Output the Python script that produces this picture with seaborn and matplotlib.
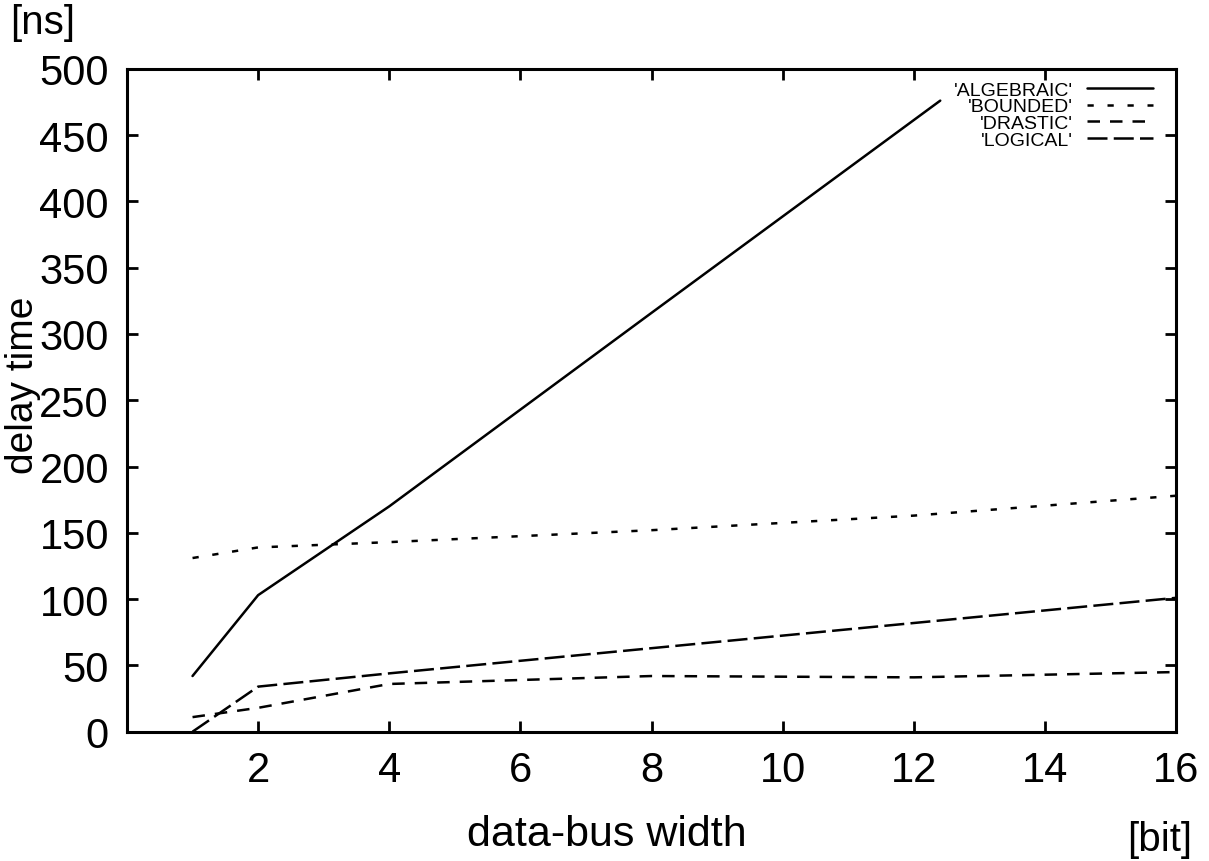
import matplotlib
matplotlib.use("Agg")
import matplotlib.pyplot as plt
import seaborn as sns

# data-bus width [bit] and delay time [ns]
x_algebraic = [1, 2, 4, 8, 12.4]
y_algebraic = [42, 103, 170, 316, 476]

x_bounded = [1, 2, 4, 8, 12, 16]
y_bounded = [131, 139, 143, 152, 163, 178]

x_drastic = [1, 2, 4, 8, 12, 16]
y_drastic = [11, 18, 36, 42, 41, 45]

x_logical = [1, 2, 4, 8, 16]
y_logical = [0, 34, 44, 63, 101]

labels = ["'ALGEBRAIC'", "'BOUNDED'", "'DRASTIC'", "'LOGICAL'"]
x_ticks = [2, 4, 6, 8, 10, 12, 14, 16]
y_ticks = [0, 50, 100, 150, 200, 250, 300, 350, 400, 450, 500]

sns.set_style("ticks")
plt.rcParams['font.family'] = ['Liberation Sans', 'DejaVu Sans']
plt.rcParams['text.color'] = 'black'

fig = plt.figure(figsize=(12.09, 8.62), dpi=100)
ax = fig.add_axes([0.105, 0.150, 0.868, 0.769])

series = [
    (x_algebraic, y_algebraic, '-'),
    (x_bounded, y_bounded, (0, (2.5, 5.5))),
    (x_drastic, y_drastic, (0, (5, 4))),
    (x_logical, y_logical, (0, (8, 2.5))),
]
for (xs, ys, ls), lab in zip(series, labels):
    sns.lineplot(x=xs, y=ys, ax=ax, color='black', linewidth=1.8,
                 linestyle=ls, label=lab)

ax.set_xlim(0, 16)
ax.set_ylim(0, 500)
ax.set_xticks(x_ticks)
ax.set_yticks(y_ticks)
ax.tick_params(direction='in', length=8, width=2, top=True, right=True,
               labelsize=30, colors='black', pad=13)
for sp in ax.spines.values():
    sp.set_linewidth(2.2)
    sp.set_color('black')

# axis titles and units placed like the original
fig.text(0.502, 0.008, 'data-bus width', fontsize=31, ha='center', va='bottom')
fig.text(0.019, 0.553, 'delay time', fontsize=28, rotation=90,
         ha='center', va='center')
fig.text(0.008, 0.995, '[ns]', fontsize=29, va='top', ha='left')
fig.text(0.986, 0.004, '[bit]', fontsize=29, va='bottom', ha='right')

leg = ax.legend(loc='upper right', frameon=False, markerfirst=False,
                fontsize=14, labelspacing=-0.05, handlelength=3.4,
                handletextpad=0.7, borderaxespad=0.0,
                bbox_to_anchor=(0.985, 0.993))

fig.savefig('out.png', dpi=100)
